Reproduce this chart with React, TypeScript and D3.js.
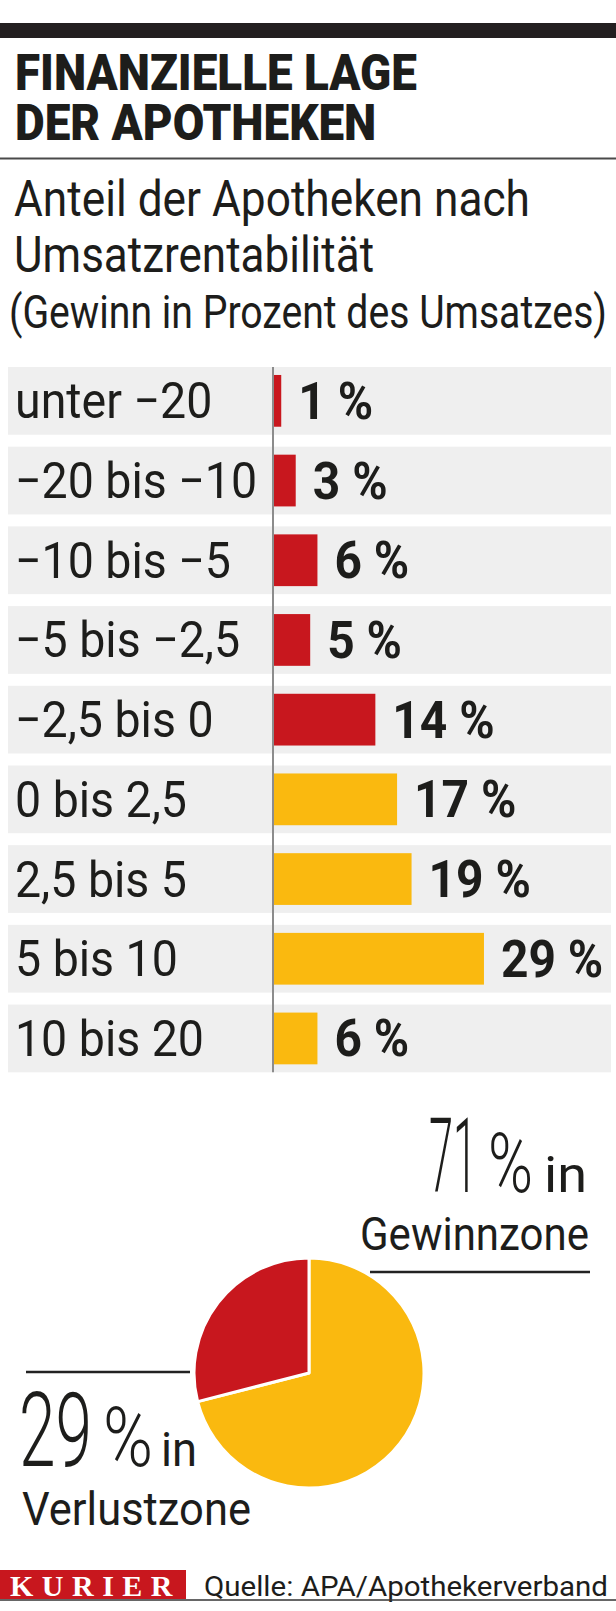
import React, { useLayoutEffect, useRef, useState } from 'react';
import * as d3 from 'd3';

// share of pharmacies by return on sales (profit in % of revenue)
const categories = [
  'unter −20',
  '−20 bis −10',
  '−10 bis −5',
  '−5 bis −2,5',
  '−2,5 bis 0',
  '0 bis 2,5',
  '2,5 bis 5',
  '5 bis 10',
  '10 bis 20',
];
const shares = [1, 3, 6, 5, 14, 17, 19, 29, 6];
const inLoss = [true, true, true, true, true, false, false, false, false];

const zoneLabels = ['Gewinnzone', 'Verlustzone'];
const zoneValues = [71, 29];

const titleLines = ['FINANZIELLE LAGE', 'DER APOTHEKEN'];

const W = 616;
const H = 1611;
const RED = '#c8171e';
const YELLOW = '#fab90f';
const INK = '#1d1d1b';
const FONT = 'Roboto, "Noto Sans", sans-serif';

// text squeezed horizontally so its first line gets the given width
// (the original uses a condensed face we don't have)
const FitText: React.FC<{
  x: number; y: number; width: number; size: number; weight?: number;
  lines?: string[]; lineHeight?: number; children?: React.ReactNode;
}> = ({ x, y, width, size, weight = 400, lines, lineHeight = 0, children }) => {
  const ref = useRef<SVGTextElement>(null);
  const [s, setS] = useState(1);

  useLayoutEffect(() => {
    const measure = () => {
      const el = ref.current;
      if (!el) return;
      const len = lines ? el.getSubStringLength(0, lines[0].length) : el.getComputedTextLength();
      if (len > 0) setS(width / len);
    };
    measure();
    (document as any).fonts?.ready.then(measure);
  }, [width, children, lines]);

  return (
    <text ref={ref} transform={`translate(${x},${y}) scale(${s},1)`}
      fontFamily={FONT} fontSize={size} fontWeight={weight} fill={INK}>
      {lines
        ? lines.map((l, i) => <tspan key={l} x={0} y={i * lineHeight}>{l}</tspan>)
        : children}
    </text>
  );
};

const App: React.FC = () => {
  const y = d3.scaleBand<string>()
    .domain(categories)
    .range([361, 361 + categories.length * 79.7])
    .paddingInner(0.15)
    .paddingOuter(0.075);

  const x = d3.scaleLinear().domain([0, 30]).range([274, 274 + 30 * 7.24]);

  const pie = d3.pie<number>().sort(null).value((d) => d);
  const arcs = pie(zoneValues);
  const arc = d3.arc<d3.PieArcDatum<number>>().innerRadius(0).outerRadius(115);
  const zoneColor = [YELLOW, RED];

  return (
    <svg width={W} height={H} style={{ position: 'absolute', left: 0, top: 0, background: '#fff' }}>
      <rect x={0} y={0} width={W} height={H} fill="#fff" />

      {/* header */}
      <rect x={0} y={23} width={W} height={15} fill="#231f20" />
      <FitText x={15} y={90} width={402} size={50} weight={900} lines={titleLines} lineHeight={50} />
      <line x1={0} x2={W} y1={158.5} y2={158.5} stroke="#4a4a4a" strokeWidth={2} />

      <FitText x={14} y={216} width={516} size={50}>Anteil der Apotheken nach</FitText>
      <FitText x={14} y={272} width={360} size={50}>Umsatzrentabilität</FitText>
      <FitText x={9} y={328} width={598} size={46}>(Gewinn in Prozent des Umsatzes)</FitText>

      {/* bar rows */}
      {categories.map((c, i) => {
        const top = y(c)!;
        const bw = y.bandwidth();
        const mid = top + bw / 2;
        return (
          <g key={c}>
            <rect x={8} y={top} width={603} height={bw} fill="#efefef" />
            <rect x={x(0)} y={top + 8} width={x(shares[i]) - x(0)} height={bw - 16} fill={inLoss[i] ? RED : YELLOW} />
            <text
              transform={`translate(15,${mid + 17.5}) scale(0.93,1)`}
              fontFamily={FONT} fontSize={50} fill={INK}
            >{c}</text>
            <text
              transform={`translate(${x(shares[i]) + 17},${mid + 18}) scale(0.94,1)`}
              fontFamily={FONT} fontSize={51} fontWeight={700} fill={INK}
            >{`${shares[i]} %`}</text>
          </g>
        );
      })}
      <line
        x1={273} x2={273}
        y1={y(categories[0])!} y2={y(categories[categories.length - 1])! + y.bandwidth()}
        stroke="#8c8c8c" strokeWidth={2}
      />

      {/* pie */}
      <g transform="translate(309,1373)">
        {arcs.map((a, i) => (
          <path key={zoneLabels[i]} d={arc(a)!} fill={zoneColor[i]} stroke="#fff" strokeWidth={3} strokeLinejoin="round" />
        ))}
      </g>

      {/* profit annotation */}
      <FitText x={429} y={1192} width={48} size={104} weight={300}>{zoneValues[0]}</FitText>
      <FitText x={488} y={1192} width={45} size={83} weight={300}>%</FitText>
      <FitText x={544} y={1192} width={43} size={49}>in</FitText>
      <FitText x={360} y={1250} width={229} size={47}>{zoneLabels[0]}</FitText>
      <line x1={370} x2={590} y1={1272} y2={1272} stroke="#222" strokeWidth={2.5} />

      {/* loss annotation */}
      <line x1={26} x2={190} y1={1372} y2={1372} stroke="#222" strokeWidth={2.5} />
      <FitText x={19} y={1466} width={73} size={104} weight={300}>{zoneValues[1]}</FitText>
      <FitText x={103} y={1466} width={50} size={83} weight={300}>%</FitText>
      <FitText x={161} y={1466} width={36} size={49}>in</FitText>
      <FitText x={22} y={1525} width={229} size={46}>{zoneLabels[1]}</FitText>

      {/* footer */}
      <rect x={0} y={1570} width={186} height={29} fill={RED} />
      <text x={10} y={1596} fontFamily='"Liberation Serif", serif' fontWeight={700} fontSize={30}
        letterSpacing={8.5} fill="#fff">KURIER</text>
      <FitText x={204} y={1596} width={404} size={28}>Quelle: APA/Apothekerverband</FitText>
      <line x1={0} x2={W} y1={1600} y2={1600} stroke="#333" strokeWidth={1.5} />
    </svg>
  );
};

export default App;
